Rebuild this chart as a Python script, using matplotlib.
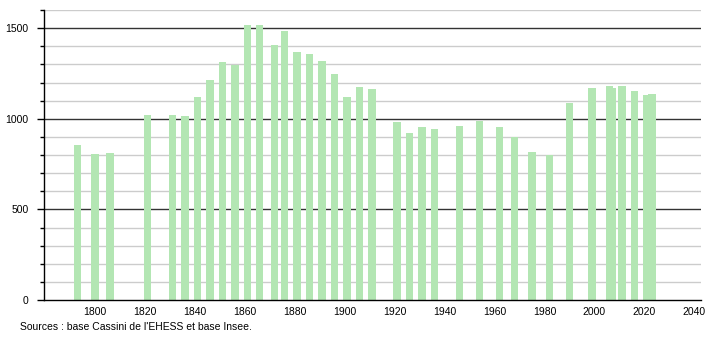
import matplotlib
matplotlib.use("Agg")
import matplotlib.pyplot as plt
from matplotlib.ticker import MultipleLocator

years = [1793, 1800, 1806, 1821, 1831, 1836, 1841, 1846, 1851, 1856, 1861, 1866,
         1872, 1876, 1881, 1886, 1891, 1896, 1901, 1906, 1911, 1921, 1926, 1931,
         1936, 1946, 1954, 1962, 1968, 1975, 1982, 1990, 1999, 2006, 2007, 2011,
         2016, 2021, 2023]
population = [856, 807, 812, 1018, 1022, 1013, 1118, 1212, 1311, 1297, 1520, 1520,
              1409, 1486, 1366, 1359, 1317, 1249, 1118, 1175, 1166, 980, 923, 956,
              945, 961, 989, 956, 899, 819, 801, 1088, 1168, 1182, 1170, 1182,
              1155, 1129, 1138]
xticks = list(range(1800, 2041, 20))
yticks = [0, 500, 1000, 1500]
source = "Sources : base Cassini de l'EHESS et base Insee."

plt.rcParams['font.family'] = ['Liberation Sans', 'DejaVu Sans']

fig = plt.figure(figsize=(7.1, 3.4), dpi=100)
ax = fig.add_axes([44/710, 40/340, (701-44)/710, 290/340])

ax.set_xlim(1779.6, 2042.7)
ax.set_ylim(0, 1600)

# grid
for v in range(100, 1601, 100):
    if v % 500 == 0:
        ax.axhline(v, color='#333333', lw=1.0, zorder=1)
    else:
        ax.axhline(v, color='#cccccc', lw=1.0, zorder=1)

ax.bar(years, population, width=3.0, color='#b3e6b3', zorder=2, linewidth=0)

for s in ['top', 'right']:
    ax.spines[s].set_visible(False)
ax.spines['left'].set_color('black')
ax.spines['bottom'].set_color('black')
ax.spines['left'].set_linewidth(1.0)
ax.spines['bottom'].set_linewidth(1.0)

ax.set_xticks(xticks)
ax.set_xticklabels([str(t) for t in xticks], fontsize=7.5)
ax.tick_params(axis='x', length=0, pad=5)
ax.set_yticks(yticks)
ax.set_yticklabels([str(t) for t in yticks], fontsize=7.5)
ax.yaxis.set_minor_locator(MultipleLocator(100))
ax.tick_params(axis='y', which='major', length=5, width=1, pad=6)
ax.tick_params(axis='y', which='minor', length=3, width=1)

fig.text(20/710, 1 - 327/340, source, fontsize=7.5, va='center', ha='left')

fig.savefig("out.png", dpi=100)
